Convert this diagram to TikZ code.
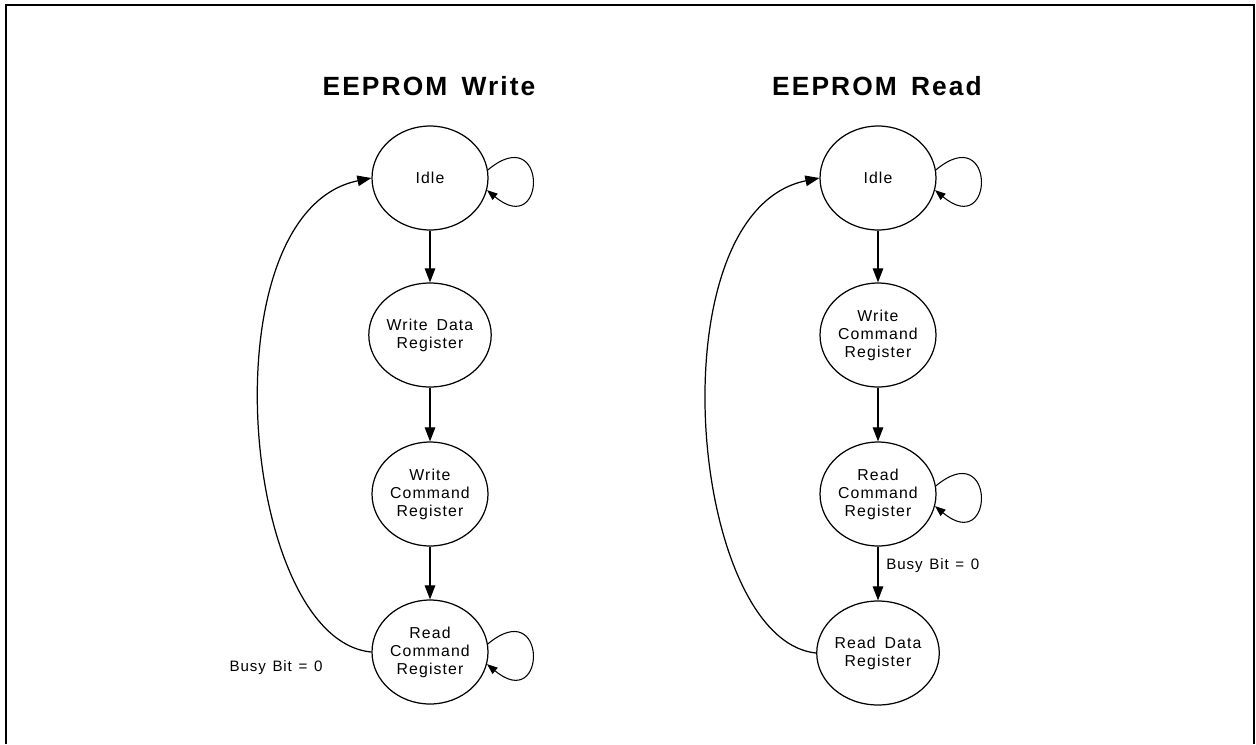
\documentclass[tikz,border=0pt]{standalone}
\usepackage{fontspec}
\setmainfont{Liberation Sans}
\newfontfamily\trk[LetterSpace=7,WordSpace=1.6]{Liberation Sans}
\newfontfamily\trkl[LetterSpace=6,WordSpace=1.3]{Liberation Sans}
\newfontfamily\trkb[LetterSpace=8,WordSpace=1.5]{Liberation Sans Bold}
\usetikzlibrary{shapes.geometric,arrows.meta}
\tikzset{
  state/.style={ellipse, draw, line width=0.7pt, minimum width=2.32cm, minimum height=2.08cm,
    inner sep=0pt, align=center, font=\trk\fontsize{9}{10.2}\selectfont},
  title/.style={font=\trkb\fontsize{15}{18}\selectfont},
  lbl/.style={font=\trkl\fontsize{8.6}{10.2}\selectfont, inner sep=0pt},
  conn/.style={line width=0.7pt, -{Triangle[length=8pt,width=6pt]}},
  loopc/.style={line width=0.6pt, -{Triangle[length=6pt,width=4.5pt]}}
}
\begin{document}
\begin{tikzpicture}[x=0.02cm, y=-0.02cm]
\useasboundingbox (0,0) rectangle (1256,744);
\draw[line width=1.2pt] (6,744) -- (6,5) -- (1254,5) -- (1254,744);

% titles
\node[title] (t1) at (429,86) {EEPROM Write};
\node[title] (t2) at (877,86) {EEPROM Read};

% left column
\node[state] (wi) at (430,178) {Idle};
\node[state] (wd) at (430,335) {Write Data\\Register};
\node[state] (wc) at (430,494) {Write\\Command\\Register};
\node[state] (wr) at (430,652) {Read\\Command\\Register};
\node[lbl] (wl) at (276,668) {Busy Bit = 0};

\draw[conn] (wi) -- (wd);
\draw[conn] (wd) -- (wc);
\draw[conn] (wc) -- (wr);
\draw[conn] (wr.west) .. controls (240,640) and (205,212) .. (wi.west);
\draw[loopc] (wi.8) .. controls +(60,-50) and +(60,50) .. (wi.-12);
\draw[loopc] (wr.8) .. controls +(60,-50) and +(60,50) .. (wr.-12);

% right column
\node[state] (ri) at (878,178) {Idle};
\node[state] (rw) at (878,335) {Write\\Command\\Register};
\node[state] (rc) at (878,494) {Read\\Command\\Register};
\node[state] (rd) at (878,653) {Read Data\\Register};
\node[lbl, anchor=west] (rl) at (886,566) {Busy Bit = 0};

\draw[conn] (ri) -- (rw);
\draw[conn] (rw) -- (rc);
\draw[conn] (rc) -- (rd);
\draw[conn] (rd.west) .. controls (688,640) and (653,212) .. (ri.west);
\draw[loopc] (ri.8) .. controls +(60,-50) and +(60,50) .. (ri.-12);
\draw[loopc] (rc.8) .. controls +(60,-50) and +(60,50) .. (rc.-12);
\end{tikzpicture}
\end{document}
